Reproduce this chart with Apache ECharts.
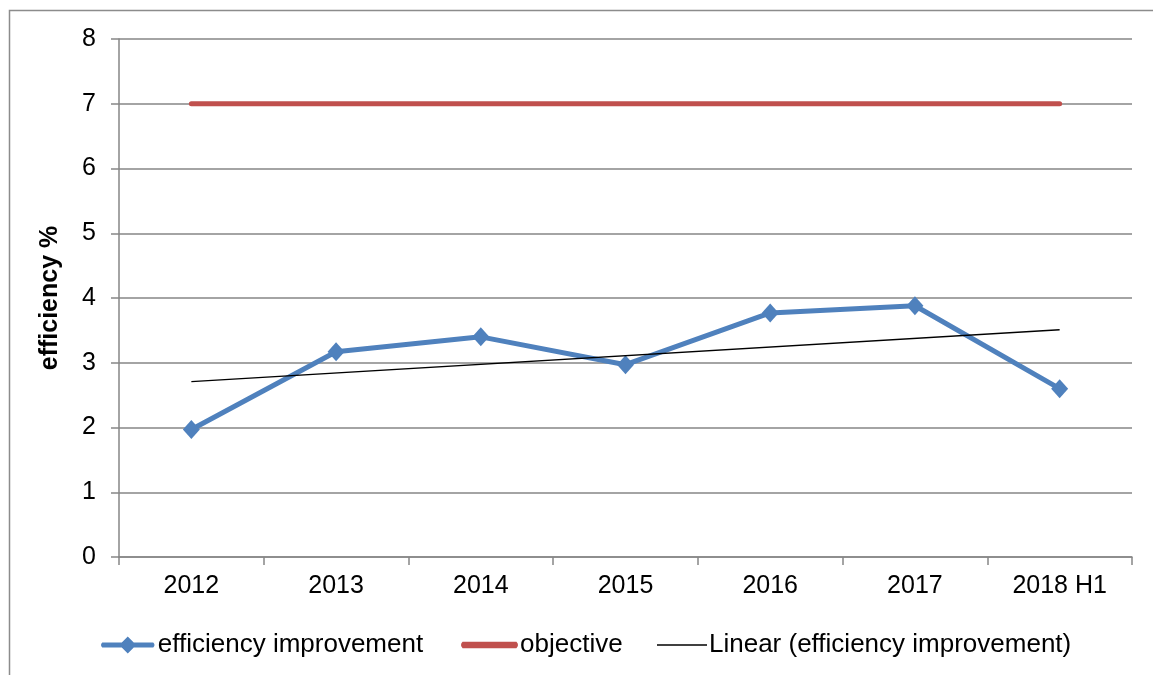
<!DOCTYPE html>
<html>
<head>
<meta charset="utf-8">
<script src="https://cdn.jsdelivr.net/npm/echarts@6/dist/echarts.min.js"></script>
<style>
  html, body { margin: 0; padding: 0; background: #fff; }
  #main { width: 1153px; height: 675px; }
</style>
</head>
<body>
<div id="main"></div>
<script>
// 数据
const years = ['2012', '2013', '2014', '2015', '2016', '2017', '2018 H1'];
const efficiency = [1.97, 3.17, 3.40, 2.97, 3.77, 3.88, 2.60];
const objective = [7, 7, 7, 7, 7, 7, 7];
// trend line: only the two ends
const linearTrend = [2.71, null, null, null, null, null, 3.51];
const yTicks = [0, 1, 2, 3, 4, 5, 6, 7, 8];

const font = 'Liberation Sans, Arial, sans-serif';

let myChart = echarts.init(document.getElementById('main'));

// 每个图例单独放置
function legendItem(name, left, width, icon, color) {
  return {
    top: 627,
    left: left,
    itemWidth: width,
    itemHeight: 17,
    textStyle: { color: '#000', fontSize: 26, fontFamily: font, padding: [0, 0, 0, -3] },
    data: [{ name: name, icon: icon, itemStyle: { color: color } }]
  };
}

let option = {
  animation: false,
  textStyle: { fontFamily: font },
  grid: { left: 119, right: 21, top: 39, bottom: 118, containLabel: false },
  graphic: [{
    type: 'rect',
    shape: { x: 9.5, y: 10.5, width: 1200, height: 700 },
    style: { fill: 'none', stroke: '#8c8c8c', lineWidth: 1.5 },
    silent: true
  }],
  xAxis: {
    type: 'category',
    data: years,
    boundaryGap: true,
    axisLine: { lineStyle: { color: '#868686', width: 1.5 } },
    axisTick: { show: true, length: 8, alignWithLabel: false, lineStyle: { color: '#868686', width: 1.5 } },
    axisLabel: { color: '#000', fontSize: 25, fontFamily: font, margin: 17 },
    splitLine: { show: false }
  },
  yAxis: {
    type: 'value',
    min: yTicks[0],
    max: yTicks[yTicks.length - 1],
    interval: 1,
    name: 'efficiency %',
    nameLocation: 'middle',
    nameGap: 56,
    nameRotate: 90,
    nameTextStyle: { color: '#000', fontSize: 25, fontWeight: 'bold', fontFamily: font },
    axisLine: { show: true, lineStyle: { color: '#868686', width: 1.5 } },
    axisTick: { show: true, length: 8, lineStyle: { color: '#868686', width: 1.5 } },
    axisLabel: { color: '#000', fontSize: 25, fontFamily: font, margin: 23 },
    splitLine: { show: true, lineStyle: { color: '#868686', width: 1.5 } }
  },
  legend: [
    legendItem('efficiency improvement', 96, 56,
      'path://M2.5,6 L53.5,6 Q56,8.5 53.5,11 L2.5,11 Q0,8.5 2.5,6 Z M28,0 L36.5,8.5 L28,17 L19.5,8.5 Z', '#4f81bd'),
    legendItem('objective', 456, 57,
      'path://M3,5.5 L54,5.5 Q57,8.5 54,11.5 L3,11.5 Q0,8.5 3,5.5 Z', '#c0504d'),
    legendItem('Linear (efficiency improvement)', 652, 50,
      'path://M0,7.8 L50,7.8 L50,9.2 L0,9.2 Z', '#000')
  ],
  series: [
    {
      name: 'objective',
      type: 'line',
      data: objective,
      symbol: 'none',
      lineStyle: { color: '#c0504d', width: 5, cap: 'round' },
      itemStyle: { color: '#c0504d' },
      z: 2
    },
    {
      name: 'efficiency improvement',
      type: 'line',
      data: efficiency,
      symbol: 'diamond',
      symbolSize: [17, 19],
      lineStyle: { color: '#4f81bd', width: 5, cap: 'round', join: 'round' },
      itemStyle: { color: '#4f81bd' },
      z: 3
    },
    {
      name: 'Linear (efficiency improvement)',
      type: 'line',
      data: linearTrend,
      connectNulls: true,
      symbol: 'none',
      lineStyle: { color: '#000', width: 1.3 },
      itemStyle: { color: '#000' },
      z: 4
    }
  ]
};

myChart.setOption(option);
</script>
</body>
</html>
